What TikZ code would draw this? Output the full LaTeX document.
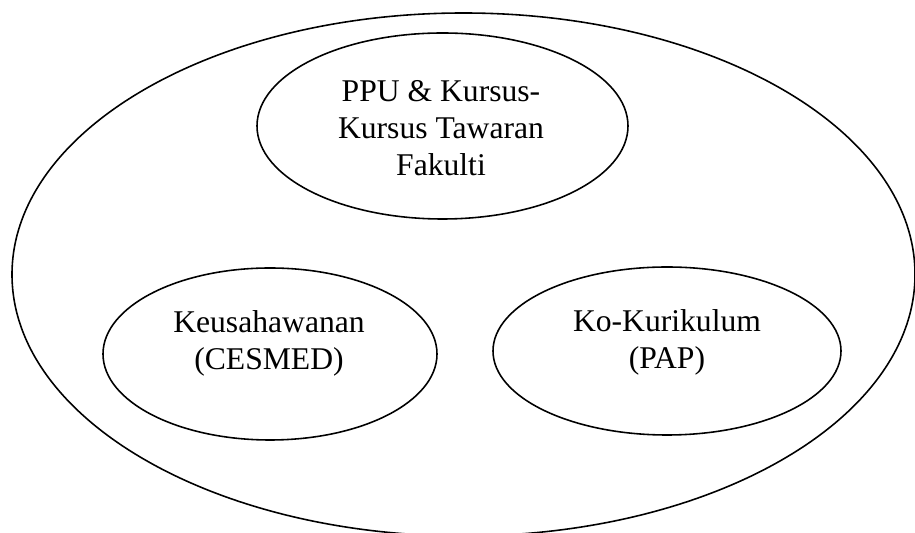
\documentclass[tikz,border=0pt]{standalone}
\usepackage{fontspec}
\setmainfont{Liberation Serif}
\usepackage{tikz}
\usetikzlibrary{calc,shapes.geometric}

\tikzset{
  bubble/.style={ellipse,draw,line width=0.9pt,inner sep=0pt},
  btext/.style={align=center,font=\fontsize{18}{21}\selectfont,inner sep=0pt}
}

\begin{document}
\begin{tikzpicture}
              \useasboundingbox (0,0) rectangle (18.3,10.66);
              \clip (0,0) rectangle (18.3,10.66);
              \node[bubble,minimum width=18.06cm,minimum height=10.46cm](all)at(9.27,5.17){};
              \node[bubble,minimum width=7.42cm,minimum height=3.72cm](ppu)at(8.85,8.14){};
              \node[bubble,minimum width=6.68cm,minimum height=3.44cm](kus)at(5.40,3.58){};
              \node[bubble,minimum width=6.96cm,minimum height=3.36cm](ko)at(13.34,3.64){};
              \node[btext](ppu text)at($(ppu.center)+(-0.03,-0.05)$){PPU \& Kursus-\\Kursus Tawaran\\Fakulti};
              \node[btext](kus text)at($(kus.center)+(-0.02,0.22)$){Keusahawanan\\(CESMED)};
              \node[btext](ko text)at($(ko.center)+(0,0.18)$){Ko-Kurikulum\\(PAP)};
            \end{tikzpicture}
\end{document}
